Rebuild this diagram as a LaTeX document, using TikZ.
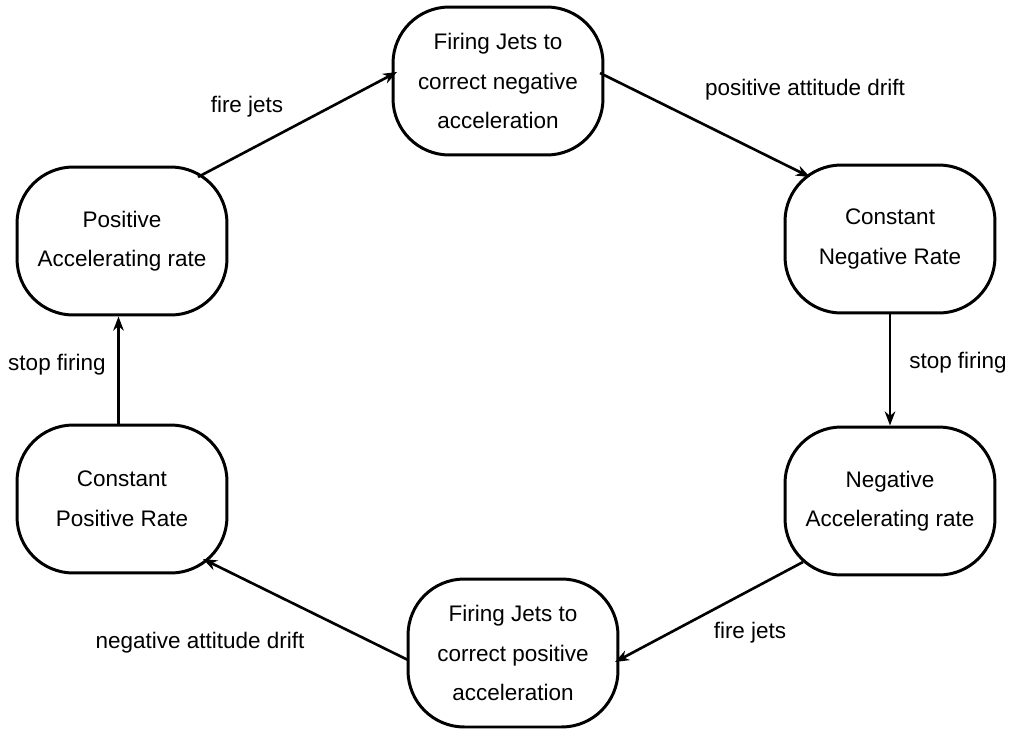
\documentclass[tikz,border=0pt]{standalone}
\usepackage{fontspec}
\setmainfont{Liberation Sans}
\usetikzlibrary{arrows.meta}

\begin{document}
\begin{tikzpicture}[
    x=0.02cm,y=-0.02cm,
    state/.style={
      draw,line width=1.7pt,rounded corners=32pt,
      minimum width=4.2cm,minimum height=2.96cm,
      align=center,font=\fontsize{12.8}{22.5}\selectfont
    },
    trans/.style={-{Stealth[length=8pt,width=6pt,inset=2.5pt]},line width=1.5pt},
    lbl/.style={font=\fontsize{12.8}{15}\selectfont}
  ]
    \useasboundingbox (0,0) rectangle (1011,730);

    \node[state] (firneg)   at (498,81)  {Firing Jets to\\correct negative\\acceleration};
    \node[state] (constneg) at (890,239) {Constant\\Negative Rate};
    \node[state] (negacc)   at (890,501) {Negative\\Accelerating rate};
    \node[state] (firpos)   at (513,653) {Firing Jets to\\correct positive\\acceleration};
    \node[state] (constpos) at (122,499) {Constant\\Positive Rate};
    \node[state] (posacc)   at (122,241) {Positive\\Accelerating rate};

    \draw[trans] ([shift={(76,-64)}]posacc.center) -- ([shift={(-101,-9)}]firneg.center);
    \draw[trans] ([shift={(102,-8)}]firneg.center) -- ([shift={(-80,-62)}]constneg.center);
    \draw[trans] (constneg.south) -- (negacc.north);
    \draw[trans] ([shift={(-87,61)}]negacc.center) -- ([shift={(102,9)}]firpos.center);
    \draw[trans] ([shift={(-105,7)}]firpos.center) -- ([shift={(81,60)}]constpos.center);
    \draw[trans] ([xshift=-2pt]constpos.north) -- ([xshift=-2pt]posacc.south);

    \node[lbl] (firejetsup)   at (247,107) {fire jets};
    \node[lbl] (posdrift)     at (805,90)  {positive attitude drift};
    \node[lbl] (stopneg)      at (958,363) {stop firing};
    \node[lbl] (firejetsdown) at (750,633) {fire jets};
    \node[lbl] (negdrift)     at (200,643) {negative attitude drift};
    \node[lbl] (stoppos)      at (57,365)  {stop firing};
  \end{tikzpicture}
\end{document}
